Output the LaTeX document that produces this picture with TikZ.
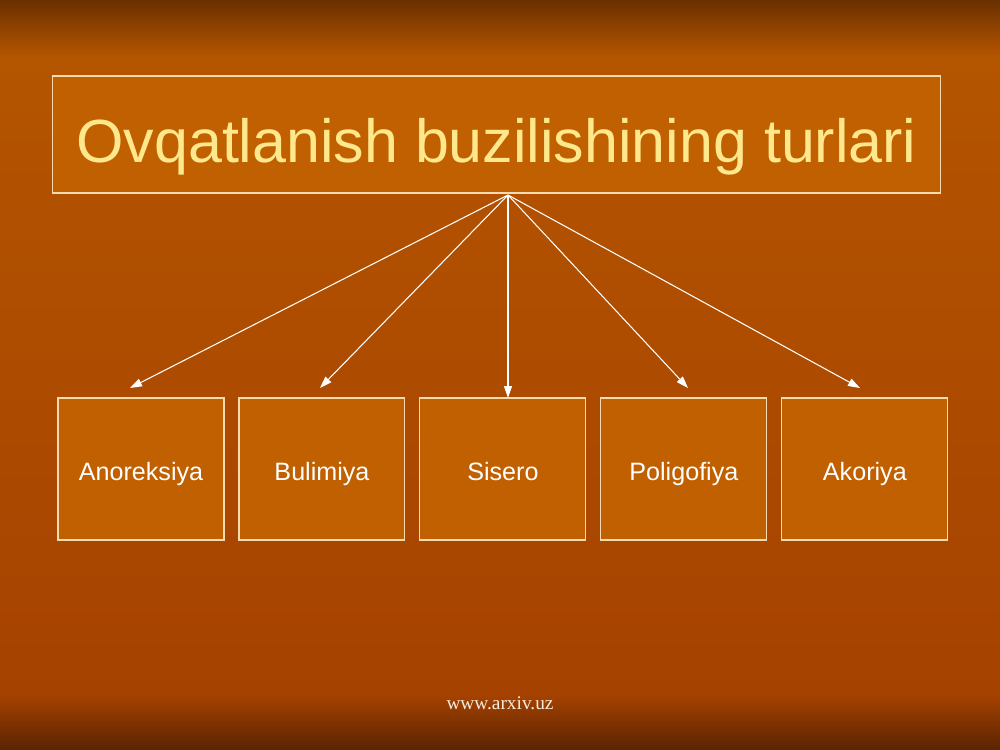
\documentclass[tikz,border=0pt]{standalone}
\usepackage{fontspec}
\setmainfont{Liberation Sans}
\newfontfamily\footfont{Liberation Serif}
\usepackage{tikz}
\usetikzlibrary{positioning,arrows.meta}

\definecolor{bgtop}{HTML}{6A3000}
\definecolor{bgmid}{HTML}{B45500}
\definecolor{bglow}{HTML}{A64200}
\definecolor{bgbot}{HTML}{5A2400}
\definecolor{boxfill}{HTML}{C06000}
\definecolor{boxline}{HTML}{F6DAB0}
\definecolor{titletext}{HTML}{FFE88C}
\definecolor{foottext}{HTML}{F6ECE0}

\begin{document}
\begin{tikzpicture}[x=0.02cm,y=-0.02cm,node distance=3.62cm,on grid,
        title/.style={draw=boxline,fill=boxfill,line width=0.6pt,
          minimum width=17.78cm,minimum height=2.34cm,inner sep=0pt,
          text height=1.14cm,text depth=0pt,
          text=titletext,font=\fontsize{34.7}{40}\selectfont},
        kind/.style={draw=boxline,fill=boxfill,line width=0.6pt,
          minimum width=3.32cm,minimum height=2.84cm,inner sep=0pt,
          text height=0.44cm,text depth=0pt,
          text=white,font=\fontsize{14.3}{16}\selectfont},
        link/.style={white,line width=0.6pt,-{Triangle[length=2.4mm,width=1.6mm]}}]
      % background
      \useasboundingbox (0,0) rectangle (1000,750);
      \shade[top color=bgmid,bottom color=bglow] (0,55) rectangle (1000,695);
      \shade[top color=bgtop,bottom color=bgmid] (0,0) rectangle (1000,56);
      \shade[top color=bglow,bottom color=bgbot] (0,694) rectangle (1000,750);
      % boxes
      \node[title] (t) at (496.5,134.5) {Ovqatlanish buzilishining turlari};
      \node[kind] (a) at (141,469) {Anoreksiya};
      \node[kind] (b) [right=of a] {Bulimiya};
      \node[kind] (c) [right=of b] {Sisero};
      \node[kind] (d) [right=of c] {Poligofiya};
      \node[kind] (e) [right=of d] {Akoriya};
      \node[font=\footfont\fontsize{11}{13}\selectfont,text=foottext] (www) at (500,703) {www.arxiv.uz};
      % arrows
      \coordinate (hub) at (508,195);
      \coordinate (ta) at (130,388);
      \coordinate (tb) at (320,388);
      \coordinate (tc) at (508,398);
      \coordinate (td) at (688,388);
      \coordinate (te) at (860,388);
      \path[link]
        (hub) edge (ta)
        (hub) edge (tb)
        (hub) edge (tc)
        (hub) edge (td)
        (hub) edge (te);
    \end{tikzpicture}
\end{document}
